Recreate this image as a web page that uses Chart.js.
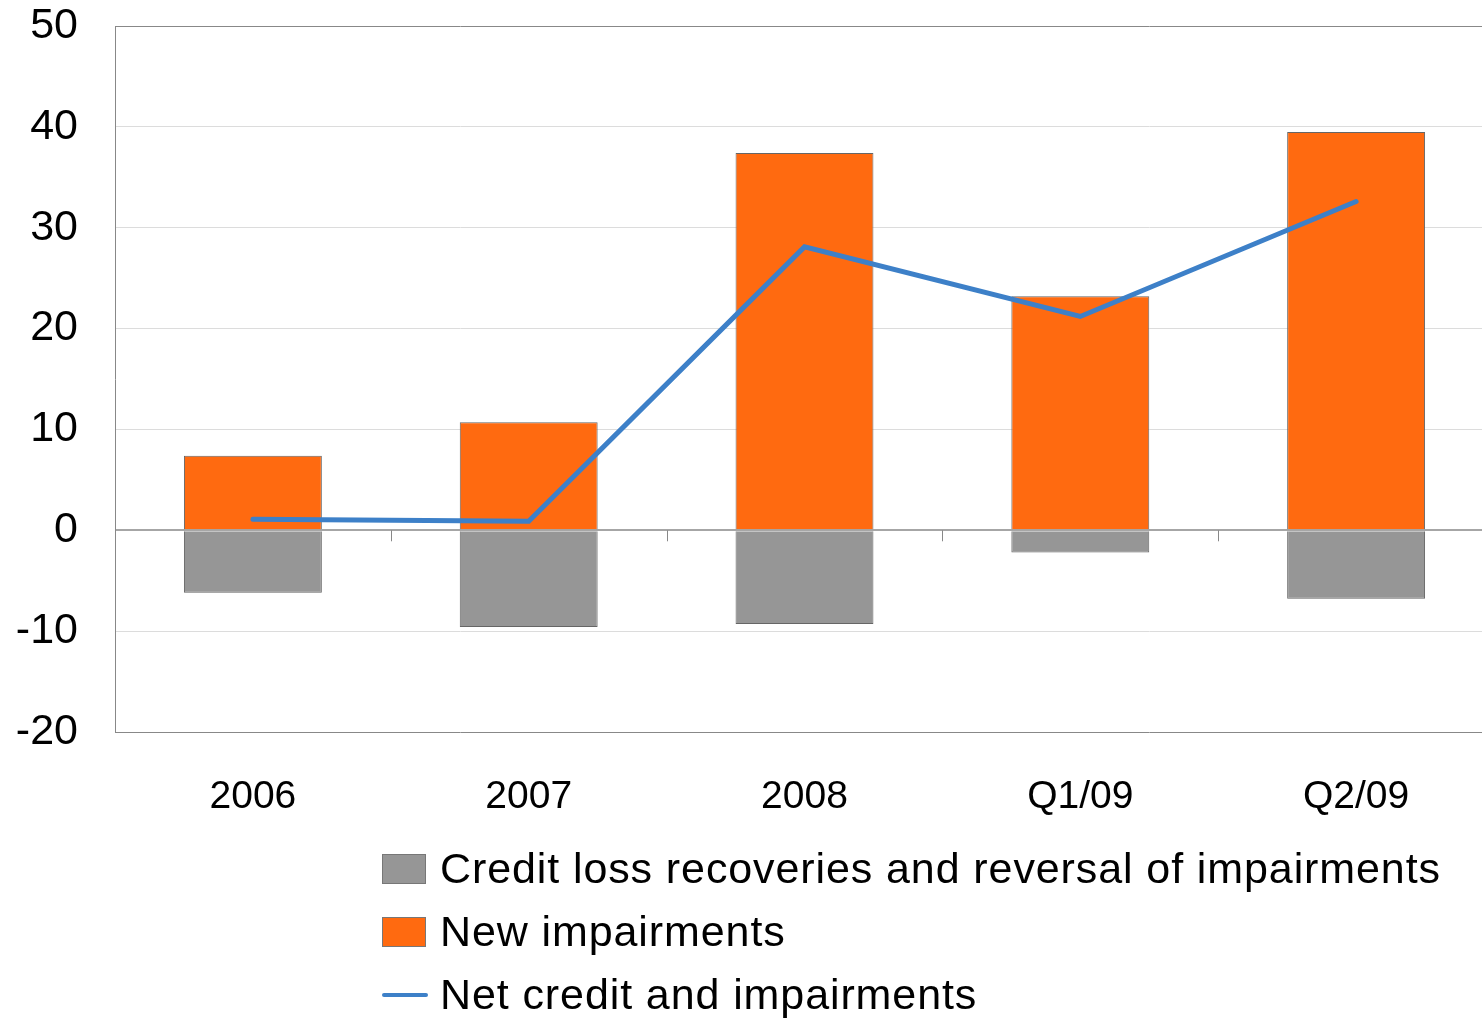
<!DOCTYPE html>
<html>
<head>
<meta charset="utf-8">
<script src="https://cdn.jsdelivr.net/npm/chart.js@4.4.1/dist/chart.umd.min.js"></script>
<style>
  html, body { margin: 0; padding: 0; background: #fff; overflow: hidden; }
  #wrap { position: relative; width: 1482px; height: 1018px; overflow: hidden; }
  #legend { position: absolute; left: 382px; top: 837px; font-family: "Liberation Sans", Arial, sans-serif; font-size: 43px; letter-spacing: 0.9px; color: #000; }
  .item { height: 63px; display: flex; align-items: center; white-space: nowrap; }
  .box { width: 42px; height: 28px; border: 1px solid #777; margin-right: 14px; }
  .line { width: 46px; height: 4px; border-radius: 2px; background: #3d80c8; margin-right: 12px; }
</style>
</head>
<body>
<div id="wrap">
  <canvas id="chart" width="1494" height="1018"></canvas>
  <div id="legend"></div>
</div>
<script>
const categories = ['2006', '2007', '2008', 'Q1/09', 'Q2/09'];
const recoveries = [-6.2, -9.6, -9.3, -2.2, -6.8];
const newImpairments = [7.4, 10.7, 37.4, 23.2, 39.5];
const netCredit = [1.1, 0.9, 28.1, 21.2, 32.6];
const yTicks = [-20, -10, 0, 10, 20, 30, 40, 50];

const seriesNames = ['Credit loss recoveries and reversal of impairments', 'New impairments', 'Net credit and impairments'];
const colors = ['#969696', '#ff6a10', '#3d80c8'];

// small tick marks on the zero line between categories
const zeroTicks = {
    id: 'zeroTicks',
    afterDatasetsDraw(chart) {
        const x = chart.scales.x, y = chart.scales.y, ctx = chart.ctx;
        const y0 = y.getPixelForValue(0);
        ctx.save();
        ctx.strokeStyle = '#888';
        ctx.lineWidth = 1;
        for (let i = 0; i < categories.length - 1; i++) {
            const px = Math.round((x.getPixelForValue(i) + x.getPixelForValue(i + 1)) / 2) + 0.5;
            ctx.beginPath();
            ctx.moveTo(px, y0);
            ctx.lineTo(px, y0 + 11);
            ctx.stroke();
        }
        ctx.restore();
    }
};

new Chart(document.getElementById('chart').getContext('2d'), {
    type: 'bar',
    data: {
        labels: categories,
        datasets: [{
            type: 'line',
            label: seriesNames[2],
            data: netCredit,
            borderColor: colors[2],
            borderWidth: 5,
            borderCapStyle: 'round',
            pointRadius: 0,
            tension: 0,
            order: 0
        }, {
            label: seriesNames[0],
            data: recoveries,
            backgroundColor: colors[0],
            borderColor: '#666',
            borderWidth: 1,
            stack: 's',
            order: 1
        }, {
            label: seriesNames[1],
            data: newImpairments,
            backgroundColor: colors[1],
            borderColor: '#666',
            borderWidth: 1,
            stack: 's',
            order: 1
        }]
    },
    options: {
        responsive: false,
        animation: false,
        layout: { padding: 0 },
        datasets: { bar: { categoryPercentage: 1, barPercentage: 0.5 } },
        plugins: { legend: { display: false }, tooltip: { enabled: false } },
        scales: {
            x: {
                stacked: true,
                grid: { display: false, drawTicks: false },
                border: { display: false },
                ticks: { color: '#000', padding: 42, font: { family: 'Liberation Sans', size: 39 } },
                afterFit(s) { s.height = 286; s.paddingLeft = 0; s.paddingRight = 0; }
            },
            y: {
                stacked: true,
                min: yTicks[0],
                max: yTicks[yTicks.length - 1],
                afterBuildTicks(s) { s.ticks = yTicks.map(v => ({ value: v })); },
                grid: {
                    drawTicks: false,
                    color: c => (c.tick.value === 0 ? '#a6a6a6' : (c.tick.value === 50 || c.tick.value === -20 ? '#888' : '#dcdcdc')),
                    lineWidth: c => (c.tick.value === 0 ? 2 : 1)
                },
                border: { color: '#888' },
                ticks: { color: '#000', padding: 37, font: { family: 'Liberation Sans', size: 43 } },
                afterFit(s) { s.width = 115; s.paddingTop = 26; s.paddingBottom = 0; }
            }
        }
    },
    plugins: [zeroTicks]
});

// legend built from the same series names and colours
const legend = document.getElementById('legend');
seriesNames.forEach((name, i) => {
    const row = document.createElement('div');
    row.className = 'item';
    const mark = document.createElement('span');
    if (i === 2) { mark.className = 'line'; } else { mark.className = 'box'; mark.style.background = colors[i]; }
    const txt = document.createElement('span');
    txt.textContent = name;
    row.appendChild(mark);
    row.appendChild(txt);
    legend.appendChild(row);
});
</script>
</body>
</html>
